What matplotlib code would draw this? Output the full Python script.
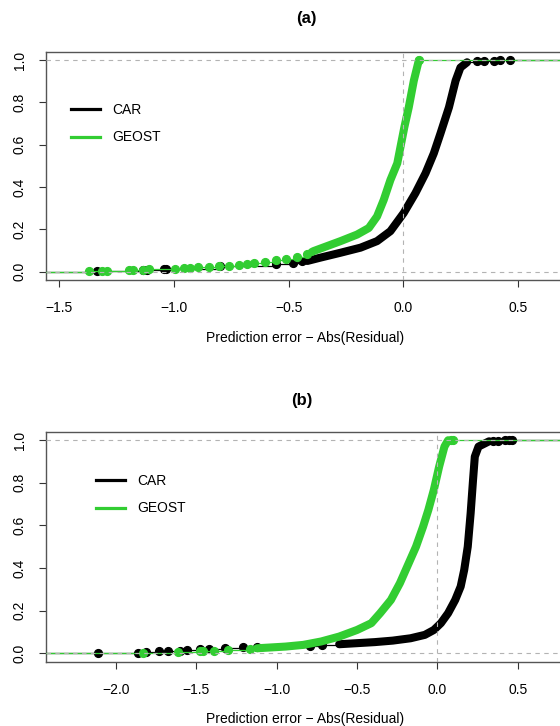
import matplotlib
matplotlib.use("Agg")
import matplotlib.pyplot as plt
from matplotlib.lines import Line2D

plt.rcParams['font.family'] = ['Liberation Sans', 'DejaVu Sans']

# ---- data: ecdf points (x, cumulative F) ----
series_names = ["CAR", "GEOST"]
panel_titles = ["(a)", "(b)"]
x_label = "Prediction error \u2212 Abs(Residual)"
y_ticks = [0.0, 0.2, 0.4, 0.6, 0.8, 1.0]
x_ticks_a = [-1.5, -1.0, -0.5, 0.0, 0.5]
x_ticks_b = [-2.0, -1.5, -1.0, -0.5, 0.0, 0.5]

# panel (a), CAR
car_a_tail_x = [-1.333, -1.133, -1.117, -1.045, -1.032, -0.797, -0.557, -0.480, -0.441]
car_a_tail_F = [0.001, 0.006, 0.008, 0.010, 0.012, 0.024, 0.035, 0.042, 0.048]
car_a_body_x = [-0.419, -0.361, -0.274, -0.187, -0.115, -0.057, 0.001, 0.052, 0.096,
                0.132, 0.161, 0.198, 0.227, 0.248, 0.277]
car_a_body_F = [0.050, 0.066, 0.089, 0.113, 0.144, 0.191, 0.277, 0.371, 0.465,
                0.559, 0.653, 0.777, 0.903, 0.965, 0.990]
car_a_top_x = [0.321, 0.350, 0.393, 0.422, 0.466]
car_a_top_F = [0.994, 0.996, 0.997, 0.999, 1.0]

# panel (a), GEOST
geost_a_tail_x = [-1.369, -1.312, -1.292, -1.195, -1.177, -1.133, -1.110, -0.993, -0.954,
                  -0.931, -0.895, -0.848, -0.803, -0.760, -0.716, -0.682, -0.651, -0.604,
                  -0.557, -0.511, -0.464, -0.418]
geost_a_tail_F = [0.001, 0.003, 0.004, 0.006, 0.007, 0.009, 0.011, 0.014, 0.016,
                  0.018, 0.020, 0.022, 0.025, 0.028, 0.032, 0.035, 0.039, 0.045,
                  0.053, 0.060, 0.068, 0.085]
geost_a_body_x = [-0.400, -0.391, -0.274, -0.202, -0.151, -0.115, -0.086, -0.057, -0.027,
                  -0.013, 0.004, 0.023, 0.045, 0.067]
geost_a_body_F = [0.092, 0.097, 0.144, 0.175, 0.206, 0.261, 0.339, 0.433, 0.512,
                  0.590, 0.684, 0.777, 0.903, 1.0]
geost_a_top_x = [0.067]
geost_a_top_F = [1.0]

# panel (b), CAR
car_b_tail_x = [-2.113, -1.861, -1.813, -1.735, -1.679, -1.601, -1.557, -1.479, -1.423,
                -1.323, -1.212, -1.123, -0.790, -0.720]
car_b_tail_F = [0.001, 0.003, 0.005, 0.008, 0.010, 0.012, 0.015, 0.018, 0.020,
                0.023, 0.028, 0.029, 0.035, 0.038]
car_b_body_x = [-0.611, -0.500, -0.389, -0.278, -0.167, -0.078, -0.022, 0.022, 0.067,
                0.111, 0.145, 0.167, 0.189, 0.207, 0.222, 0.233, 0.256, 0.322]
car_b_body_F = [0.042, 0.047, 0.052, 0.059, 0.070, 0.086, 0.109, 0.141, 0.188,
                0.250, 0.313, 0.391, 0.500, 0.657, 0.814, 0.923, 0.970, 0.995]
car_b_top_x = [0.345, 0.380, 0.420, 0.445, 0.467]
car_b_top_F = [0.997, 0.998, 0.999, 0.999, 1.0]

# panel (b), GEOST
geost_b_tail_x = [-1.834, -1.612, -1.479, -1.456, -1.390, -1.301, -1.167]
geost_b_tail_F = [0.001, 0.004, 0.008, 0.010, 0.012, 0.016, 0.020]
geost_b_body_x = [-1.123, -0.945, -0.834, -0.723, -0.611, -0.500, -0.411, -0.356, -0.289,
                  -0.233, -0.178, -0.133, -0.089, -0.056, -0.022, 0.011, 0.044, 0.067]
geost_b_body_F = [0.023, 0.031, 0.039, 0.055, 0.078, 0.109, 0.141, 0.188, 0.250,
                  0.329, 0.423, 0.500, 0.594, 0.673, 0.767, 0.876, 0.970, 1.0]
geost_b_top_x = [0.085, 0.096]
geost_b_top_F = [1.0, 1.0]

car_col = 'black'
geost_col = '#32CD32'   # R "limegreen"
grid_col = '#B3B3B3'    # R "gray70"


def draw_ecdf(ax, tx, tF, bx, bF, ux, uF, color, z):
    xlo, xhi = ax.get_xlim()
    # flat extensions of the ecdf out to the plot edges
    ax.plot([xlo, tx[0]], [0, 0], color=color, lw=0.9, zorder=z)
    ax.plot([ux[-1], xhi], [1, 1], color=color, lw=0.9, zorder=z)
    # thin steps between the sparse points of the tails
    ax.plot(tx + bx[:1], tF + bF[:1], color=color, lw=0.9, drawstyle='steps-post', zorder=z)
    ax.plot(bx[-1:] + ux, bF[-1:] + uF, color=color, lw=0.9, drawstyle='steps-post', zorder=z)
    # dense part of the curve shows up as a thick band of points
    ax.plot(bx, bF, color=color, lw=5.8, solid_capstyle='round',
            solid_joinstyle='round', zorder=z)
    ax.plot(tx + ux, tF + uF, 'o', color=color, ms=5.6, mec=color, zorder=z)


def setup_panel(ax, xlim, xticks):
    ax.set_xlim(*xlim)
    ax.set_ylim(-0.04, 1.04)
    ax.set_xticks(xticks)
    ax.set_xticklabels([f"{t:.1f}".replace('-', '\u2212') for t in xticks])
    ax.set_yticks(y_ticks)
    ax.set_yticklabels([f"{t:.1f}" for t in y_ticks], rotation=90, va='center')
    ax.tick_params(axis='both', direction='out', length=5, width=0.8,
                   labelsize=10, color='#333333')
    ax.tick_params(axis='x', pad=10)
    ax.tick_params(axis='y', pad=9)
    for s in ax.spines.values():
        s.set_color('#555555')
        s.set_linewidth(1.0)


fig = plt.figure(figsize=(5.6, 7.26), dpi=100)
W, H = 560.0, 726.0

panels = [
    dict(box=(46.4, 51.7, 564.0, 280.0), xlim=(-1.555, 0.699), xticks=x_ticks_a,
         car=(car_a_tail_x, car_a_tail_F, car_a_body_x, car_a_body_F, car_a_top_x, car_a_top_F),
         geost=(geost_a_tail_x, geost_a_tail_F, geost_a_body_x, geost_a_body_F,
                geost_a_top_x, geost_a_top_F),
         title_xy=(306, 19), xlab_xy=(305, 338), leg_xy=(71, 103)),
    dict(box=(46.4, 431.7, 564.0, 661.7), xlim=(-2.433, 0.788), xticks=x_ticks_b,
         car=(car_b_tail_x, car_b_tail_F, car_b_body_x, car_b_body_F, car_b_top_x, car_b_top_F),
         geost=(geost_b_tail_x, geost_b_tail_F, geost_b_body_x, geost_b_body_F,
                geost_b_top_x, geost_b_top_F),
         title_xy=(302, 400), xlab_xy=(305, 719), leg_xy=(96, 474)),
]

for i, p in enumerate(panels):
    l, t, r, b = p['box']
    ax = fig.add_axes([l / W, 1 - b / H, (r - l) / W, (b - t) / H])
    setup_panel(ax, p['xlim'], p['xticks'])

    draw_ecdf(ax, *p['car'], car_col, 2)
    draw_ecdf(ax, *p['geost'], geost_col, 3)

    ax.axhline(0, color=grid_col, lw=0.8, ls=(0, (4, 4)), zorder=4)
    ax.axhline(1, color=grid_col, lw=0.8, ls=(0, (4, 4)), zorder=4)
    ax.axvline(0, color=grid_col, lw=0.8, ls=(0, (4, 4)), zorder=4)

    handles = [Line2D([], [], color=car_col, lw=2.3),
               Line2D([], [], color=geost_col, lw=2.3)]
    lx, ly = p['leg_xy']
    ax.legend(handles, series_names, loc='upper left', frameon=False,
              bbox_to_anchor=(lx / W, 1 - ly / H), bbox_transform=fig.transFigure,
              borderpad=0, borderaxespad=0, handlelength=2.1, handletextpad=0.9,
              labelspacing=0.97, fontsize=10)

    fig.text(p['title_xy'][0] / W, 1 - p['title_xy'][1] / H, panel_titles[i],
             ha='center', va='center', fontsize=12, fontweight='bold')
    fig.text(p['xlab_xy'][0] / W, 1 - p['xlab_xy'][1] / H, x_label,
             ha='center', va='center', fontsize=10)

fig.savefig("out.png", dpi=100)
